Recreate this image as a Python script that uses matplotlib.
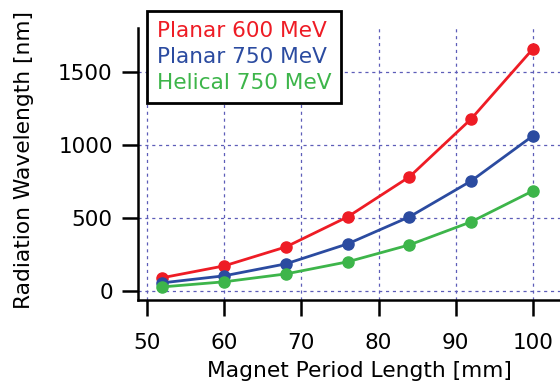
import matplotlib
matplotlib.use('Agg')
import matplotlib.pyplot as plt

plt.rcParams['font.family'] = ['DejaVu Sans']

period = [52, 60, 68, 76, 84, 92, 100]
planar_600 = [90, 171, 301, 507, 781, 1178, 1658]
planar_750 = [55, 103, 185, 322, 507, 753, 1062]
helical_750 = [27, 62, 116, 199, 315, 473, 685]

labels = ['Planar 600 MeV', 'Planar 750 MeV', 'Helical 750 MeV']
colors = ['#ee1c25', '#2b4ba0', '#3db54a']

fig = plt.figure(figsize=(5.6, 3.84), dpi=100)
ax = fig.add_axes([0.246, 0.219, 0.754, 0.708])

for ys, lab, c in zip([planar_600, planar_750, helical_750], labels, colors):
    ax.plot(period, ys, '-o', color=c, lw=2, ms=8, label=lab, zorder=3)

ax.set_xlim(48.8, 103.5)
ax.set_ylim(-62, 1800)
ax.set_xticks([50, 60, 70, 80, 90, 100])
ax.set_yticks([0, 500, 1000, 1500])

ax.grid(True, color='#5d5db8', lw=0.9, linestyle=(0, (2.5, 3)))
for s in ['top', 'right']:
    ax.spines[s].set_visible(False)
for s in ['left', 'bottom']:
    ax.spines[s].set_linewidth(1.8)
ax.tick_params(direction='out', length=11.5, width=1.8, labelsize=15.5)
ax.tick_params(axis='x', pad=12)
ax.tick_params(axis='y', pad=6.5)

ax.set_xlabel('Magnet Period Length [mm]', fontsize=15.7)
ax.set_ylabel('Radiation Wavelength [nm]', fontsize=15.7)
ax.xaxis.set_label_coords(0.525, -0.224)
ax.yaxis.set_label_coords(-0.246, 0.515)

leg = ax.legend(loc='upper left', bbox_to_anchor=(0.2625, 0.971),
                bbox_transform=fig.transFigure, borderaxespad=0,
                handlelength=0, handletextpad=0, fontsize=15.6,
                fancybox=False, framealpha=1, edgecolor='black',
                borderpad=0.45, labelspacing=0.28, labelcolor=colors)
leg.get_frame().set_linewidth(2)
for h in leg.legend_handles:
    h.set_visible(False)

fig.savefig('out.png', dpi=100)
